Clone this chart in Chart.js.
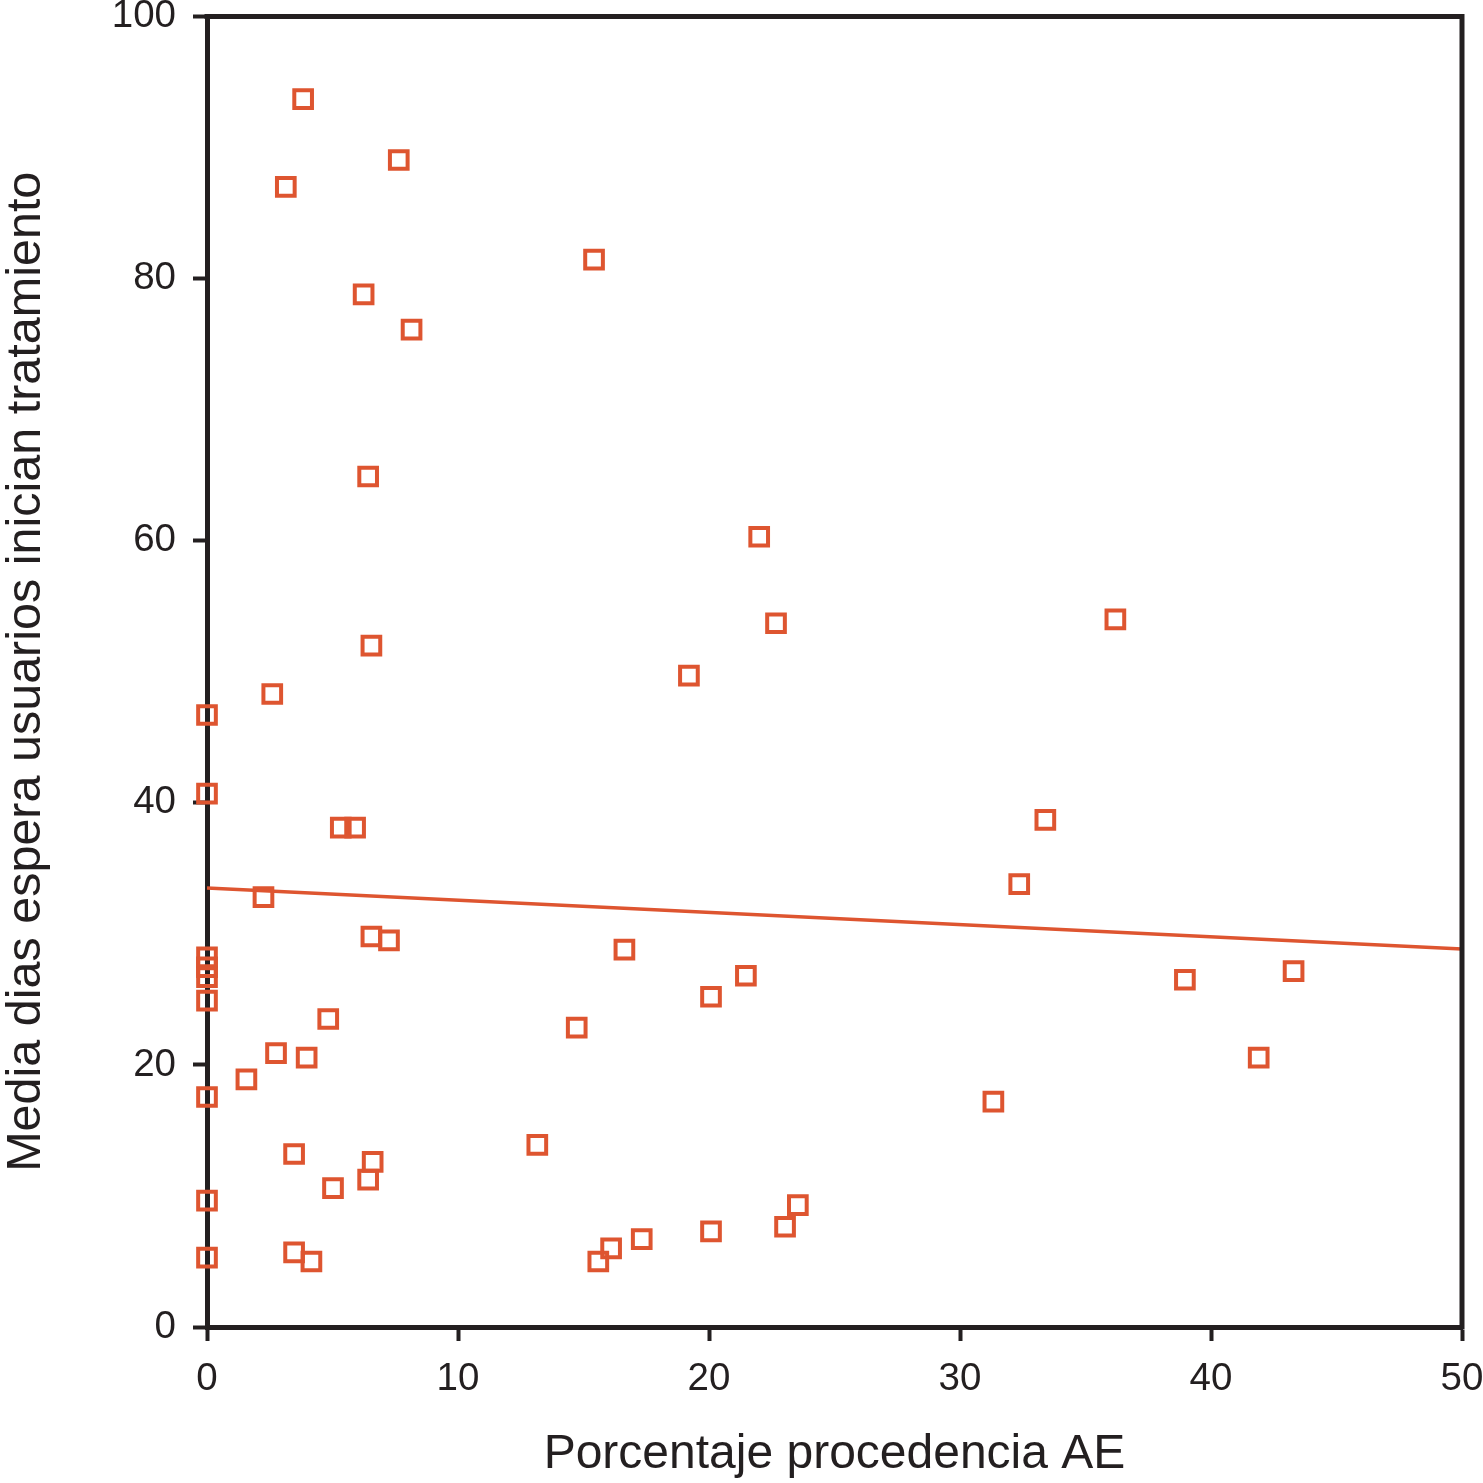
<!DOCTYPE html>
<html lang="es">
<head>
  <meta charset="UTF-8">
  <title>Media dias espera vs porcentaje procedencia AE</title>
  <script src="https://cdn.jsdelivr.net/npm/chart.js"></script>
  <style>
    html, body { margin: 0; padding: 0; background: #fff; }
    .wrap { width: 1483px; height: 1483px; position: relative; }
  </style>
</head>
<body>
<div class="wrap">
  <canvas id="scatter"></canvas>
</div>

<script>
  // values
  const pctAE = [3.83, 7.64, 3.14, 15.42, 6.24, 8.15, 6.42, 22.0, 36.19, 22.67,
                 6.55, 19.2, 2.6, 0, 0, 33.4, 5.33, 5.9, 32.36, 2.25,
                 6.55, 7.25, 16.63, 0, 0, 0, 43.29, 21.47, 38.96, 0,
                 20.08, 4.83, 14.73, 2.75, 3.97, 41.9, 1.57, 0, 31.33, 13.16,
                 3.47, 6.6, 6.42, 5.02, 23.54, 0, 23.03, 20.08, 17.32, 16.1,
                 15.59, 0, 3.47, 4.16];
  const diasEspera = [93.7, 89.05, 87.0, 81.45, 78.8, 76.1, 64.9, 60.3, 54.0, 53.7,
                      52.0, 49.7, 48.3, 46.7, 40.7, 38.7, 38.1, 38.1, 33.8, 32.8,
                      29.8, 29.5, 28.8, 28.2, 27.45, 26.7, 27.15, 26.8, 26.5, 24.9,
                      25.2, 23.5, 22.85, 20.9, 20.55, 20.55, 18.9, 17.55, 17.2, 13.9,
                      13.2, 12.6, 11.25, 10.6, 9.3, 9.65, 7.65, 7.3, 6.7, 6.0,
                      5.0, 5.3, 5.7, 5.0];
  // fitted line, start and end
  const fitX = [0, 50];
  const fitY = [33.5, 28.85];
  const xTicks = [0, 10, 20, 30, 40, 50];
  const yTicks = [0, 20, 40, 60, 80, 100];

  const orange = '#de5530';
  const ink = '#231f20';

  const points = pctAE.map((x, i) => ({ x: x, y: diasEspera[i] }));
  const fitLine = fitX.map((x, i) => ({ x: x, y: fitY[i] }));

  // top and right side of the box
  const frame = {
    id: 'frame',
    afterDraw(chart) {
      const a = chart.chartArea;
      const ctx = chart.ctx;
      ctx.save();
      ctx.strokeStyle = ink;
      ctx.lineWidth = 5;
      ctx.lineCap = 'square';
      ctx.beginPath();
      ctx.moveTo(a.left, a.top);
      ctx.lineTo(a.right, a.top);
      ctx.lineTo(a.right, a.bottom);
      ctx.stroke();
      ctx.restore();
    }
  };

  const ctx = document.getElementById('scatter').getContext('2d');
  new Chart(ctx, {
    type: 'scatter',
    data: {
      datasets: [
        {
          data: points,
          pointStyle: 'rect',
          radius: 12.5,
          pointBorderWidth: 4,
          borderColor: orange,
          backgroundColor: 'rgba(0,0,0,0)',
          clip: false
        },
        {
          type: 'line',
          data: fitLine,
          borderColor: orange,
          borderWidth: 3.5,
          pointRadius: 0,
          fill: false
        }
      ]
    },
    options: {
      responsive: true,
      maintainAspectRatio: false,
      animation: false,
      layout: { padding: { top: 15, right: 21, left: 0, bottom: 0 } },
      plugins: { legend: { display: false }, tooltip: { enabled: false } },
      scales: {
        x: {
          type: 'linear',
          min: 0, max: 50,
          z: 1,
          afterBuildTicks: s => { s.ticks = xTicks.map(v => ({ value: v })); },
          afterFit: s => { s.height = 156; s.paddingLeft = 0; s.paddingRight = 0; },
          grid: { drawOnChartArea: false, drawTicks: true, tickLength: 14, tickWidth: 4, tickColor: ink },
          border: { display: true, color: ink, width: 5 },
          ticks: { color: ink, padding: 15, font: { family: 'Liberation Sans', size: 38.5 } },
          title: {
            display: true,
            text: 'Porcentaje procedencia AE',
            color: ink,
            padding: { top: 0, bottom: 2 },
            font: { family: 'Liberation Sans', size: 48, lineHeight: 1.1 }
          }
        },
        y: {
          type: 'linear',
          min: 0, max: 100,
          z: 1,
          afterBuildTicks: s => { s.ticks = yTicks.map(v => ({ value: v })); },
          afterFit: s => { s.width = 207; s.paddingTop = 0; s.paddingBottom = 0; },
          grid: { drawOnChartArea: false, drawTicks: true, tickLength: 14, tickWidth: 4, tickColor: ink },
          border: { display: true, color: ink, width: 5 },
          ticks: { color: ink, padding: 17, font: { family: 'Liberation Sans', size: 38.5 } },
          title: {
            display: true,
            text: 'Media dias espera usuarios inician tratamiento',
            color: ink,
            padding: { top: 0, bottom: 0 },
            font: { family: 'Liberation Sans', size: 48.5, lineHeight: 1.11 }
          }
        }
      }
    },
    plugins: [frame]
  });
</script>
</body>
</html>
